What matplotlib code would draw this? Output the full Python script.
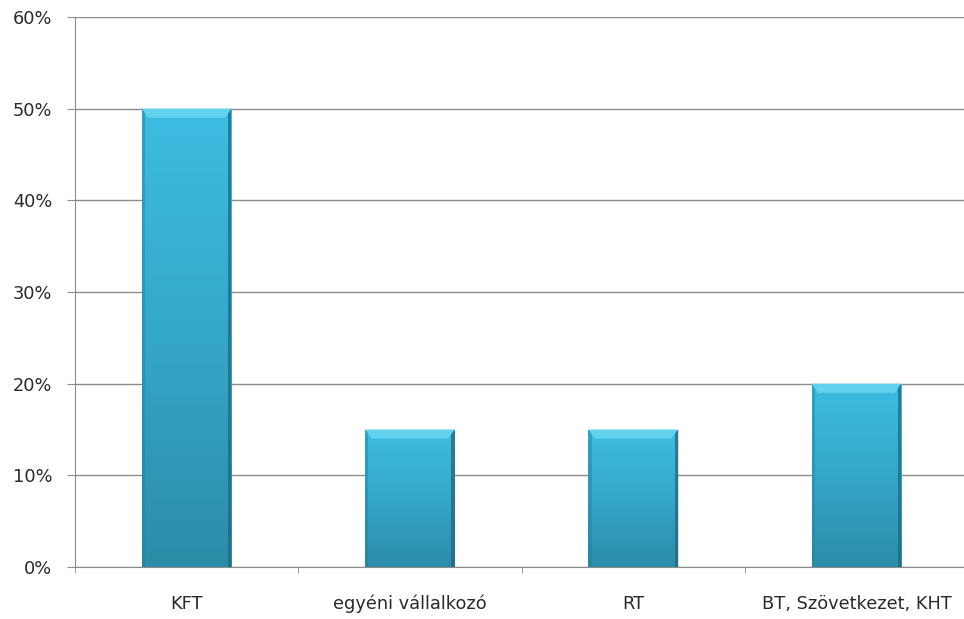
import numpy as np
import matplotlib.pyplot as plt
from matplotlib.patches import Rectangle, Polygon
from matplotlib.colors import LinearSegmentedColormap
from matplotlib.ticker import MultipleLocator, PercentFormatter

categories = ['KFT', 'egyéni vállalkozó', 'RT', 'BT, Szövetkezet, KHT']
shares = [50, 15, 15, 20]

plt.rcParams['font.family'] = ['DejaVu Sans']

fig = plt.figure(figsize=(9.64, 6.19), dpi=100)
ax = fig.add_axes([75 / 964, 1 - 567 / 619, (968 - 75) / 964, (567 - 17) / 619])

x = np.arange(len(categories))
width = 0.4
bars = ax.bar(x, shares, width, color='none', zorder=3)

# vertical gradient like the Excel bevelled bars
cmap = LinearSegmentedColormap.from_list('bar', ['#2c8ca8', '#35a7c9', '#3dbde2'])
grad = np.linspace(0, 1, 256).reshape(-1, 1)
for b in bars:
    x0, w, h = b.get_x(), b.get_width(), b.get_height()
    # soft shadow
    ax.add_patch(Rectangle((x0 + 0.004, -0.2), w, h, color='#999999', alpha=0.35, lw=0, zorder=2))
    im = ax.imshow(grad, cmap=cmap, aspect='auto', origin='lower',
                   extent=[x0, x0 + w, 0, h], zorder=3)
    clip = Rectangle((x0, 0), w, h, transform=ax.transData)
    im.set_clip_path(clip)
    # darker sides and lighter top bevel
    ax.add_patch(Rectangle((x0, 0), w * 0.035, h, color='#26809a', alpha=0.45, lw=0, zorder=4))
    ax.add_patch(Rectangle((x0 + w * 0.965, 0), w * 0.035, h, color='#1d6a80', alpha=0.75, lw=0, zorder=4))
    bev = 1.0
    ax.add_patch(Polygon([(x0, h), (x0 + w, h), (x0 + w * 0.93, h - bev), (x0 + w * 0.07, h - bev)],
                         closed=True, color='#62d2ef', lw=0, zorder=5))

ax.set_xlim(-0.5, len(categories) - 0.5)
ax.set_ylim(0, 60)
ax.yaxis.set_major_locator(MultipleLocator(10))
ax.yaxis.set_major_formatter(PercentFormatter(decimals=0))
ax.grid(axis='y', color='#8c8c8c', lw=1, zorder=0)
ax.set_axisbelow(True)

ax.set_xticks(x)
ax.set_xticklabels(categories)
ax.set_xticks(np.arange(len(categories) + 1) - 0.5, minor=True)
ax.tick_params(axis='x', which='major', length=0, pad=20, labelsize=12.8, labelcolor='#2a2a2a')
ax.tick_params(axis='x', which='minor', length=4.5, color='#8c8c8c')
ax.tick_params(axis='y', length=5.8, color='#8c8c8c', pad=10.5, labelsize=12.8, labelcolor='#2a2a2a')

for side in ['top', 'right']:
    ax.spines[side].set_visible(False)
for side in ['left', 'bottom']:
    ax.spines[side].set_color('#8c8c8c')

fig.savefig('out.png', dpi=100)
